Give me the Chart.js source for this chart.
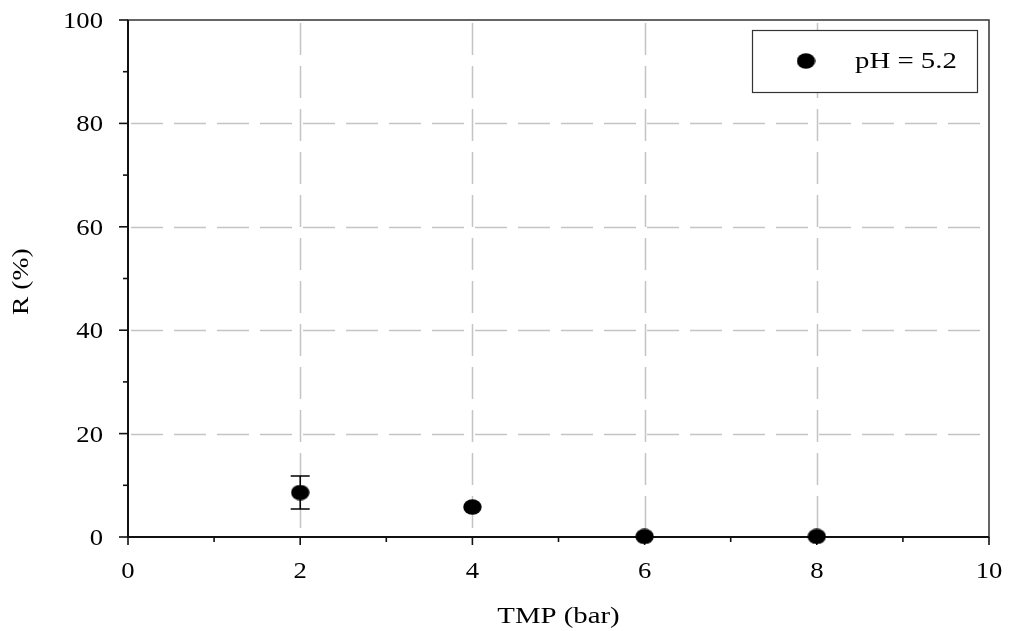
<!DOCTYPE html>
<html><head><meta charset="utf-8">
<script src="https://cdn.jsdelivr.net/npm/chart.js@4/dist/chart.umd.min.js"></script>
<style>html,body{margin:0;padding:0;background:#fff}#wrap{width:1009px;height:631px}</style>
</head><body><div id="wrap"><canvas id="c" width="1009" height="631"></canvas></div>
<script>
const tmpBar = [2, 4, 6, 8];
const rejection = [8.6, 5.8, 0.1, 0.1];
const rejErr = [3.2, 0, 0, 0];
const xMajor = [0, 2, 4, 6, 8, 10];
const xMinor = [1, 3, 5, 7, 9];
const yMajor = [0, 20, 40, 60, 80, 100];
const yMinor = [10, 30, 50, 70, 90];
const seriesLabel = 'pH = 5.2';
const xTitle = 'TMP (bar)';
const yTitle = 'R (%)';

const FONT = '"Liberation Serif", "Times New Roman", serif';
const fontSize = 24;

// elliptical marker (reference markers are slightly wider than tall)
function makeMarker(w, h) {
  const c = document.createElement('canvas');
  c.width = w; c.height = h;
  const g = c.getContext('2d');
  g.fillStyle = '#000';
  g.beginPath();
  g.ellipse(w / 2, h / 2, w / 2 - 0.3, h / 2 - 0.3, 0, 0, Math.PI * 2);
  g.fill();
  return c;
}
const marker = makeMarker(19, 16);

function stretchedText(ctx, text, x, y, align, sx) {
  ctx.save();
  ctx.translate(x, y);
  ctx.scale(sx, 1);
  ctx.textAlign = align;
  ctx.textBaseline = 'alphabetic';
  ctx.fillText(text, 0, 0);
  ctx.restore();
}

const framePlugin = {
  id: 'frame',
  beforeDatasetsDraw(chart) {
    const {ctx, chartArea: a, scales: {x, y}} = chart;
    ctx.save();
    // dashed grid
    ctx.strokeStyle = '#c4c4c4';
    ctx.lineWidth = 1.5;
    ctx.setLineDash([32, 11]);
    ctx.lineDashOffset = 40;
    xMajor.forEach(v => {
      if (v === 0 || v === 10) return;
      const px = Math.round(x.getPixelForValue(v)) + 0.5;
      ctx.beginPath(); ctx.moveTo(px, a.top); ctx.lineTo(px, a.bottom); ctx.stroke();
    });
    yMajor.forEach(v => {
      if (v === 0 || v === 100) return;
      const py = Math.round(y.getPixelForValue(v)) + 0.5;
      ctx.beginPath(); ctx.moveTo(a.left, py); ctx.lineTo(a.right, py); ctx.stroke();
    });
    ctx.setLineDash([]);
    // frame
    ctx.strokeStyle = '#333';
    ctx.lineWidth = 1.5;
    ctx.strokeRect(a.left, a.top, a.right - a.left, a.bottom - a.top);
    ctx.strokeStyle = '#111';
    ctx.lineWidth = 2;
    ctx.beginPath();
    ctx.moveTo(a.left, a.top); ctx.lineTo(a.left, a.bottom); ctx.lineTo(a.right, a.bottom);
    ctx.stroke();
    // ticks
    ctx.lineWidth = 1.6;
    xMajor.forEach(v => {
      const px = x.getPixelForValue(v);
      ctx.beginPath(); ctx.moveTo(px, a.bottom); ctx.lineTo(px, a.bottom + 8); ctx.stroke();
    });
    xMinor.forEach(v => {
      const px = x.getPixelForValue(v);
      ctx.beginPath(); ctx.moveTo(px, a.bottom); ctx.lineTo(px, a.bottom + 5); ctx.stroke();
    });
    yMajor.forEach(v => {
      const py = y.getPixelForValue(v);
      ctx.beginPath(); ctx.moveTo(a.left, py); ctx.lineTo(a.left - 9, py); ctx.stroke();
    });
    yMinor.forEach(v => {
      const py = y.getPixelForValue(v);
      ctx.beginPath(); ctx.moveTo(a.left, py); ctx.lineTo(a.left - 5, py); ctx.stroke();
    });
    // error bars
    ctx.strokeStyle = '#000';
    ctx.lineWidth = 1.5;
    tmpBar.forEach((t, i) => {
      const e = rejErr[i];
      if (!e) return;
      const px = x.getPixelForValue(t);
      const top = y.getPixelForValue(rejection[i] + e);
      const bot = y.getPixelForValue(rejection[i] - e);
      ctx.beginPath();
      ctx.moveTo(px, top); ctx.lineTo(px, bot);
      ctx.moveTo(px - 9.5, top); ctx.lineTo(px + 9.5, top);
      ctx.moveTo(px - 9.5, bot); ctx.lineTo(px + 9.5, bot);
      ctx.stroke();
    });
    ctx.restore();
  },
  afterDraw(chart) {
    const {ctx, chartArea: a, scales: {x, y}} = chart;
    ctx.save();
    ctx.fillStyle = '#000';
    ctx.font = fontSize + 'px ' + FONT;
    // tick labels
    x.ticks.forEach(t => {
      stretchedText(ctx, String(t.value), x.getPixelForValue(t.value), a.bottom + 41, 'center', 1.11);
    });
    y.ticks.forEach(t => {
      stretchedText(ctx, String(t.value), a.left - 25, y.getPixelForValue(t.value) + 8, 'right', 1.11);
    });
    // axis titles
    stretchedText(ctx, xTitle, (a.left + a.right) / 2, 623, 'center', 1.2);
    ctx.save();
    ctx.translate(28, 315);
    ctx.rotate(-Math.PI / 2);
    stretchedText(ctx, yTitle, 0, 0, 'left', 1.15);
    ctx.restore();
    // legend box
    const bx = 752, by = 30, bw = 225, bh = 62;
    ctx.fillStyle = '#fff';
    ctx.fillRect(bx, by, bw, bh);
    ctx.strokeStyle = '#333';
    ctx.lineWidth = 1.2;
    ctx.strokeRect(bx + 0.5, by + 0.5, bw, bh);
    ctx.drawImage(marker, 806 - marker.width / 2, by + bh / 2 - marker.height / 2);
    ctx.fillStyle = '#000';
    stretchedText(ctx, chart.data.datasets[0].label, 855, 68, 'left', 1.2);
    ctx.restore();
  }
};

new Chart(document.getElementById('c'), {
  type: 'scatter',
  data: {
    datasets: [{
      label: seriesLabel,
      data: tmpBar.map((t, i) => ({x: t, y: rejection[i]})),
      backgroundColor: '#000',
      borderColor: '#000',
      pointStyle: marker,
      pointRadius: 9,
      pointHoverRadius: 9,
      clip: false
    }]
  },
  options: {
    responsive: false,
    animation: false,
    events: [],
    layout: {padding: {top: 20, right: 20, left: 0, bottom: 0}},
    plugins: {legend: {display: false}, tooltip: {enabled: false}},
    scales: {
      x: {
        type: 'linear', min: 0, max: 10,
        afterFit(s) { s.height = 94; s.paddingLeft = 0; s.paddingRight = 0; },
        afterBuildTicks(s) { s.ticks = xMajor.map(v => ({value: v})); },
        grid: {display: false, drawTicks: false},
        border: {display: false},
        ticks: {display: false},
        title: {display: false, text: xTitle}
      },
      y: {
        type: 'linear', min: 0, max: 100,
        afterFit(s) { s.width = 128; s.paddingTop = 0; s.paddingBottom = 0; },
        afterBuildTicks(s) { s.ticks = yMajor.map(v => ({value: v})); },
        grid: {display: false, drawTicks: false},
        border: {display: false},
        ticks: {display: false},
        title: {display: false, text: yTitle}
      }
    }
  },
  plugins: [framePlugin]
});
</script></body></html>
